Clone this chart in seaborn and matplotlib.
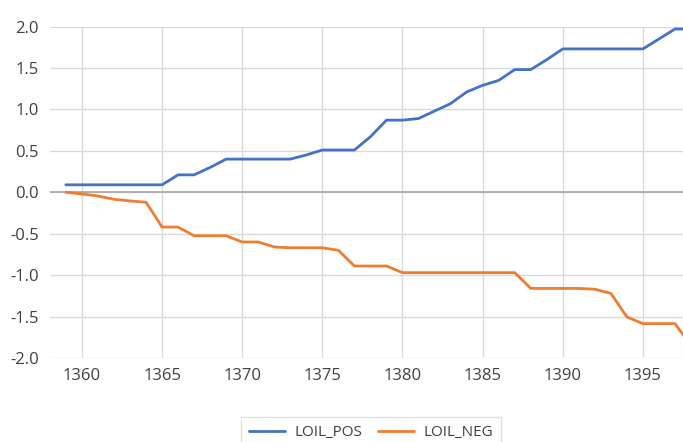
import numpy as np
import pandas as pd
import matplotlib
matplotlib.use('Agg')
import matplotlib.pyplot as plt
import seaborn as sns

years = list(range(1359, 1399))
loil_pos = [0.09, 0.09, 0.09, 0.09, 0.09, 0.09, 0.09, 0.21, 0.21, 0.30,
            0.40, 0.40, 0.40, 0.40, 0.40, 0.45, 0.51, 0.51, 0.51, 0.67,
            0.87, 0.87, 0.89, 0.98, 1.07, 1.21, 1.29, 1.35, 1.48, 1.48,
            1.60, 1.73, 1.73, 1.73, 1.73, 1.73, 1.73, 1.85, 1.97, 1.97]
loil_neg = [0.00, -0.02, -0.045, -0.085, -0.105, -0.12, -0.42, -0.42, -0.525, -0.525,
            -0.525, -0.60, -0.60, -0.66, -0.67, -0.67, -0.67, -0.70, -0.89, -0.89,
            -0.89, -0.97, -0.97, -0.97, -0.97, -0.97, -0.97, -0.97, -0.97, -1.16,
            -1.16, -1.16, -1.16, -1.17, -1.22, -1.505, -1.585, -1.585, -1.585, -1.85]
series_names = ['LOIL_POS', 'LOIL_NEG']
colors = ['#4472C4', '#ED7D31']

df = pd.DataFrame({'year': years, 'LOIL_POS': loil_pos, 'LOIL_NEG': loil_neg})
long_df = df.melt(id_vars='year', var_name='series', value_name='value')

sns.set_style('white')
plt.rcParams['font.family'] = ['Open Sans', 'DejaVu Sans']

fig = plt.figure(figsize=(6.83, 4.42), dpi=100)
ax = fig.add_axes([0.073, 0.19, 0.927, 0.75])

# gridlines first so lines sit on top
for yv in np.arange(-2.0, 2.01, 0.5):
    ax.axhline(yv, color='#d9d9d9', lw=1, zorder=0)
for xv in range(1360, 1400, 5):
    ax.axvline(xv, color='#d9d9d9', lw=1, zorder=0)
ax.axhline(0, color='#a6a6a6', lw=1.2, zorder=1)

sns.lineplot(data=long_df, x='year', y='value', hue='series', hue_order=series_names,
             palette=colors, lw=2, ax=ax, legend=True, zorder=3)

ax.set_xlim(1358.0, 1397.5)
ax.set_ylim(-2.0, 2.0)
ax.set_xticks(range(1360, 1400, 5))
ax.set_yticks(np.arange(-2.0, 2.01, 0.5))
ax.set_yticklabels(['%.1f' % v for v in np.arange(-2.0, 2.01, 0.5)])
ax.tick_params(axis='both', length=0, labelsize=12, colors='#404040')
ax.tick_params(axis='y', pad=8)
ax.tick_params(axis='x', pad=7)
ax.set_xlabel('')
ax.set_ylabel('')
for s in ax.spines.values():
    s.set_visible(False)

handles, labels = ax.get_legend_handles_labels()
ax.legend_.remove()
leg = fig.legend(handles, labels, loc='lower center', bbox_to_anchor=(0.543, -0.03), ncol=2,
                 frameon=True, fontsize=11, handlelength=2.4, handletextpad=0.6,
                 columnspacing=1.0, fancybox=False, edgecolor='#d9d9d9', borderpad=0.5)
for t in leg.get_texts():
    t.set_color('#404040')

fig.savefig('out.png', dpi=100)
